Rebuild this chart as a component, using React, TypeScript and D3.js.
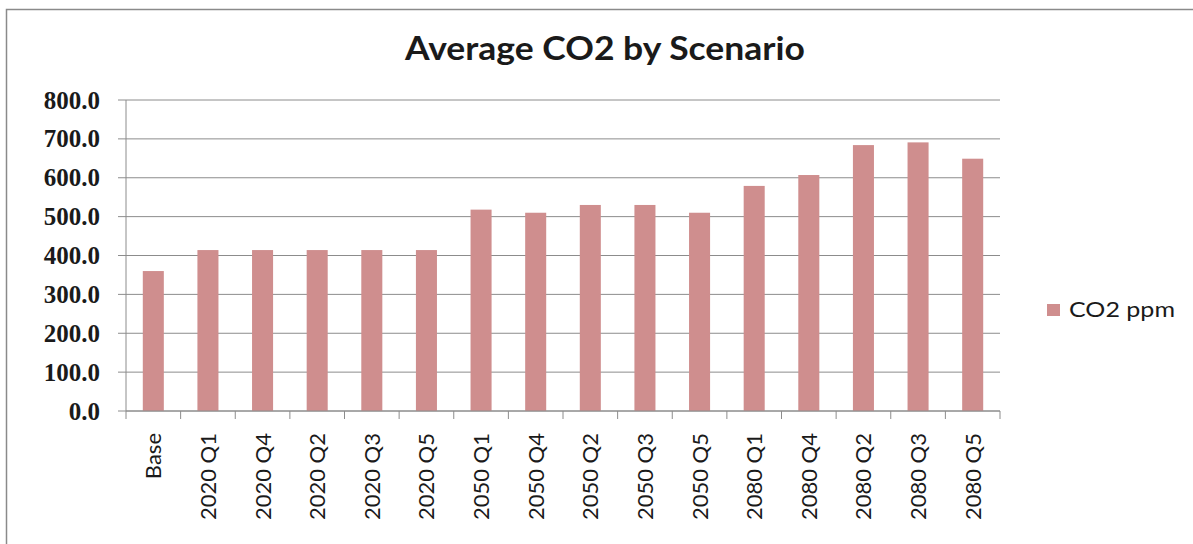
import React from "react";
import * as d3 from "d3";

const categories = [
  "Base", "2020 Q1", "2020 Q4", "2020 Q2", "2020 Q3", "2020 Q5",
  "2050 Q1", "2050 Q4", "2050 Q2", "2050 Q3", "2050 Q5",
  "2080 Q1", "2080 Q4", "2080 Q2", "2080 Q3", "2080 Q5",
];
const co2ppm = [360, 414, 414, 414, 414, 414, 518, 510, 530, 530, 510, 579, 607, 684, 691, 649];
const yTicks = [0, 100, 200, 300, 400, 500, 600, 700, 800];
const seriesName = "CO2 ppm";
const title = "Average CO2 by Scenario";

export default function App() {
  const W = 1193, H = 544;
  const left = 126, right = 1000, top = 100, bottom = 411;
  const x = d3.scaleBand<string>().domain(categories).range([left, right]).paddingInner(0).paddingOuter(0);
  const y = d3.scaleLinear().domain([0, 800]).range([bottom, top]);
  const barW = x.bandwidth() * 0.385;
  const barColor = "#CF8E8E";
  const gridColor = "#8C8C8C";
  const fmt = d3.format(".1f");

  return (
    <svg width={W} height={H} style={{ position: "absolute", left: 0, top: 0, background: "#fff" }}>
      <rect x={6.5} y={9.5} width={W + 20} height={H + 20} fill="#fff" stroke="#8a8a8a" strokeWidth={1.5} />
      <text x={605} y={60} textAnchor="middle" fontFamily="Lato, 'Open Sans', sans-serif" fontWeight={700} fontSize={33} textLength={400} lengthAdjust="spacingAndGlyphs" fill="#1a1a1a">
        {title}
      </text>
      {yTicks.map((t) => (
        <g key={t}>
          <line x1={left - 8} x2={right} y1={y(t)} y2={y(t)} stroke={gridColor} strokeWidth={1} />
          <text x={100} y={y(t)} dy="0.34em" textAnchor="end" fontFamily="'Liberation Serif', serif" fontWeight={700} fontSize={25} fill="#1a1a1a">
            {fmt(t)}
          </text>
        </g>
      ))}
      {categories.map((c, i) => (
        <rect key={c} x={(x(c) as number) + x.bandwidth() / 2 - barW / 2} y={y(co2ppm[i])} width={barW} height={bottom - y(co2ppm[i])} fill={barColor} />
      ))}
      <line x1={left} x2={left} y1={top} y2={bottom} stroke={gridColor} strokeWidth={1} />
      <line x1={left} x2={right} y1={bottom} y2={bottom} stroke={gridColor} strokeWidth={1} />
      {d3.range(categories.length + 1).map((i) => {
        const xx = left + i * x.bandwidth();
        return <line key={i} x1={xx} x2={xx} y1={bottom} y2={bottom + 8} stroke={gridColor} strokeWidth={1} />;
      })}
      {categories.map((c) => {
        const cx = (x(c) as number) + x.bandwidth() / 2;
        return (
          <text key={c} transform={`translate(${cx + 8},${bottom + 22}) rotate(-90)`} textAnchor="end" fontFamily="Lato, 'Open Sans', sans-serif" fontSize={22} fill="#1a1a1a">
            {c}
          </text>
        );
      })}
      <rect x={1047} y={304} width={13} height={12} fill={barColor} />
      <text x={1069} y={317} fontFamily="Lato, 'Open Sans', sans-serif" fontSize={22} textLength={106} lengthAdjust="spacingAndGlyphs" fill="#1a1a1a">
        {seriesName}
      </text>
    </svg>
  );
}
